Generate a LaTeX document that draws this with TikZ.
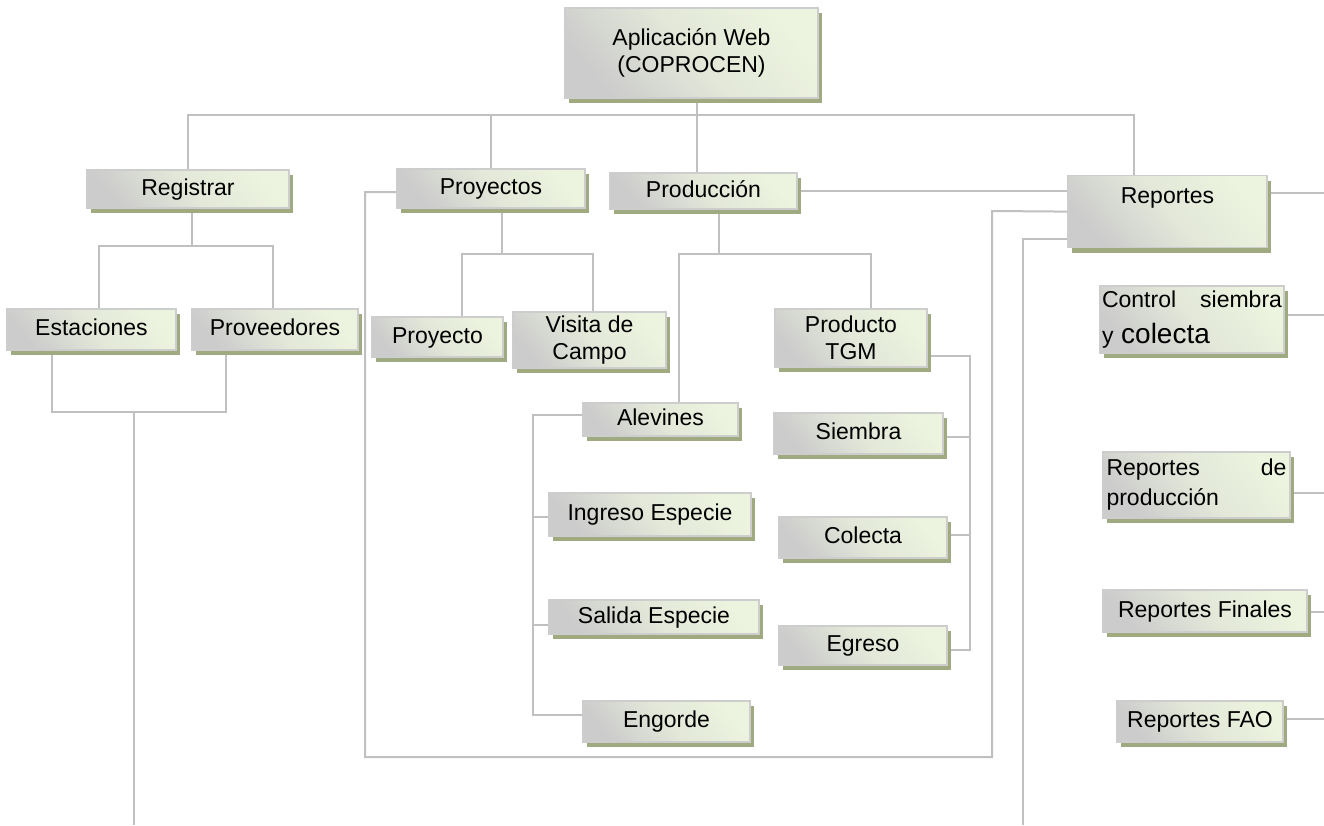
\documentclass[tikz,border=0pt]{standalone}
\usepackage{fontspec}
\setmainfont{Liberation Sans}
\usepackage{tikz}
\usetikzlibrary{shadows,backgrounds}
\definecolor{boxgreen}{RGB}{236,243,222}
\definecolor{boxgray}{RGB}{204,204,204}
\definecolor{boxline}{RGB}{205,205,205}
\definecolor{boxshadow}{RGB}{160,170,128}
\definecolor{linegray}{RGB}{192,192,192}
\tikzstyle{block} = [rectangle, draw=boxline, line width=1.2pt,
    top color=boxgreen, bottom color=boxgray, middle color=boxgreen!70!boxgray, shading angle=-50,
    inner sep=3pt, font=\fontsize{23}{27}\selectfont,
    drop shadow={shadow xshift=4pt, shadow yshift=-5pt, fill=boxshadow, opacity=1}]
\tikzstyle{one} = [text height=17pt, text depth=5pt]
\tikzstyle{line} = [draw=linegray, line width=2pt]

\begin{document}
\begin{tikzpicture}[x=1pt, y=-1pt]
   \useasboundingbox (0,0) rectangle (1324,825);

   \node [block, align=center, minimum width=253pt, minimum height=90pt] (app) at (691.5,53)
      {Aplicación Web\\(COPROCEN)};
   \node [block, one, minimum width=202pt, minimum height=38pt] (registrar) at (188,189) {Registrar};
   \node [block, one, minimum width=188pt, minimum height=39pt] (proyectos) at (491,188.5) {Proyectos};
   \node [block, one, minimum width=187pt, minimum height=36pt] (produccion) at (703.5,191) {Producción};
   \node [block, anchor=north, minimum width=199pt, text height=25pt, text depth=41pt] (reportes)
      at (1167.5,175) {Reportes};

   \node [block, one, minimum width=169pt, minimum height=41pt] (estaciones) at (91.5,329.5) {Estaciones};
   \node [block, one, minimum width=166pt, minimum height=41pt, right of=estaciones,
      node distance=183.5pt] (proveedores) {Proveedores};
   \node [block, one, minimum width=131pt, minimum height=40pt] (proyecto) at (437.5,337) {Proyecto};
   \node [block, align=center, minimum width=153pt, minimum height=56pt] (visita) at (589.5,340)
      {Visita de\\Campo};
   \node [block, align=center, minimum width=152pt, minimum height=58pt] (tgm) at (851,338)
      {Producto\\TGM};

   \node [block, one, minimum width=155pt, minimum height=33pt] (alevines) at (660.5,419.5) {Alevines};
   \node [block, one, minimum width=202pt, minimum height=43pt] (ingreso) at (650,514.5) {Ingreso Especie};
   \node [block, one, minimum width=210pt, minimum height=34pt] (salida) at (654,617) {Salida Especie};
   \node [block, one, minimum width=167pt, minimum height=41pt] (engorde) at (666.5,721.5) {Engorde};

   \node [block, one, minimum width=169pt, minimum height=41pt] (siembra) at (858.5,433.5) {Siembra};
   \node [block, one, minimum width=168pt, minimum height=41pt] (colecta) at (863,537.5) {Colecta};
   \node [block, one, minimum width=168pt, minimum height=39pt, below of=colecta,
      node distance=108pt] (egreso) {Egreso};

   \node [block, align=left, text width=180pt, inner xsep=2pt, minimum height=67pt] (control)
      at (1192,319.5) {Control\hfill siembra\\[9pt]y {\fontsize{28}{30}\selectfont colecta}};
   \node [block, align=left, text width=180pt, inner xsep=3.5pt, minimum height=66pt] (repprod)
      at (1196.5,485) {Reportes\hfill de\\[3pt]producción};
   \node [block, one, minimum width=204pt, minimum height=42pt] (finales) at (1205,611) {Reportes Finales};
   \node [block, one, minimum width=166pt, minimum height=41pt] (fao) at (1200,721.5) {Reportes FAO};

   \coordinate (bus) at (697,115);
   \coordinate (regsplit) at (192,246);
   \coordinate (regjoin) at (134,412);
   \coordinate (regend) at (134,825);
   \coordinate (proysplit) at (502,254);
   \coordinate (prodsplit) at (719,254);
   \coordinate (loopbl) at (365,757);
   \coordinate (loopr) at (992,211);
   \coordinate (repend) at (1023,825);
   \coordinate (alevcol) at (533,0);
   \coordinate (tgmcol) at (970,0);
   \coordinate (rightedge) at (1324,0);

   \begin{scope}[on background layer]
      \path [line] (registrar.north) |- (bus) -| ([xshift=-33.5pt]reportes.north);
      \path [line] (proyectos.north) -- (proyectos.north |- bus);
      \path [line] (app.south -| bus) -- (produccion.north -| bus);
      \path [line] (produccion.east) -- (produccion.east -| reportes.west);
      \path [line] ([yshift=19pt]reportes.east) -- ([yshift=19pt]reportes.east -| rightedge);
      \path [line] ([yshift=-3.5pt]proyectos.west) -| (loopbl) -| (loopr) -- (reportes.west);
      \path [line] ([yshift=-27pt]reportes.west) -| (repend);

      \path [line] (registrar.south -| regsplit) -- (regsplit);
      \path [line] ([xshift=7.5pt]estaciones.north) |- (regsplit) -| ([xshift=-2pt]proveedores.north);
      \path [line] ([xshift=-39.5pt]estaciones.south) |- (regjoin) -| ([xshift=-49pt]proveedores.south);
      \path [line] (regjoin) -- (regend);

      \path [line] ([xshift=11pt]proyectos.south) -- (proysplit);
      \path [line] ([xshift=24.5pt]proyecto.north) |- (proysplit) -| ([xshift=3.5pt]visita.north);

      \path [line] ([xshift=15.5pt]produccion.south) -- (prodsplit);
      \path [line] ([xshift=18.5pt]alevines.north) |- (prodsplit) -| ([xshift=20pt]tgm.north);

      \path [line] ([yshift=4.5pt]alevines.west) -| ([yshift=6.5pt]engorde.west -| alevcol)
         -- ([yshift=6.5pt]engorde.west);
      \path [line] ([yshift=-2.5pt]ingreso.west) -- ([yshift=-2.5pt]ingreso.west -| alevcol);
      \path [line] ([yshift=-8pt]salida.west) -- ([yshift=-8pt]salida.west -| alevcol);

      \path [line] ([yshift=-18pt]tgm.east) -| ([yshift=-4.5pt]egreso.east -| tgmcol)
         -- ([yshift=-4.5pt]egreso.east);
      \path [line] ([yshift=-3.5pt]siembra.east) -- ([yshift=-3.5pt]siembra.east -| tgmcol);
      \path [line] ([yshift=2.5pt]colecta.east) -- ([yshift=2.5pt]colecta.east -| tgmcol);

      \foreach \n/\dy in {control/4.5, repprod/-8, finales/-1, fao/2.5}
         \path [line] ([yshift=\dy pt]\n.east) -- ([yshift=\dy pt]\n.east -| rightedge);
   \end{scope}
\end{tikzpicture}
\end{document}
